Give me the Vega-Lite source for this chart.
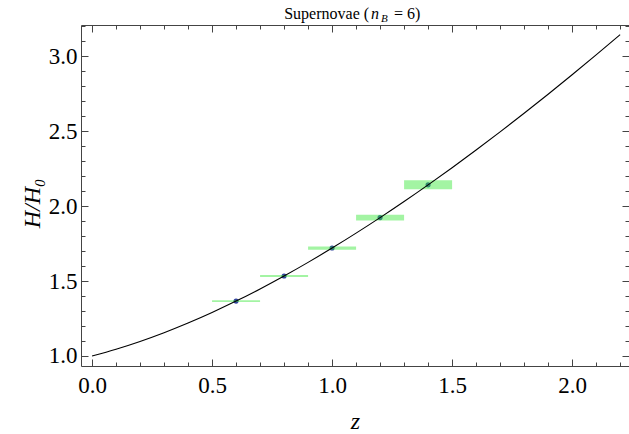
{
  "$schema": "https://vega.github.io/schema/vega-lite/v6.json",
  "width": 548,
  "height": 341,
  "autosize": {"type": "none"},
  "padding": {"left": 81, "top": 25, "right": 0, "bottom": 68},
  "background": "white",
  "config": {
    "view": {"stroke": null},
    "axis": {
      "grid": false,
      "domainColor": "#444444",
      "tickColor": "#444444",
      "domainWidth": 1,
      "tickWidth": 1,
      "labelFont": "Liberation Serif",
      "titleFont": "Liberation Serif",
      "labelColor": "black",
      "titleColor": "black",
      "labelFontSize": 23,
      "titleFontSize": 24,
      "titleFontWeight": "normal",
      "labelOverlap": false,
      "labelFlush": false,
      "labelBound": false
    }
  },
  "datasets": {
    "curve": [
      {"z": 0.0, "H": 1.0},
      {"z": 0.1, "H": 1.0453},
      {"z": 0.2, "H": 1.0972},
      {"z": 0.3, "H": 1.1555},
      {"z": 0.4, "H": 1.22},
      {"z": 0.5, "H": 1.2904},
      {"z": 0.6, "H": 1.3663},
      {"z": 0.7, "H": 1.4476},
      {"z": 0.8, "H": 1.5339},
      {"z": 0.9, "H": 1.625},
      {"z": 1.0, "H": 1.7205},
      {"z": 1.1, "H": 1.8202},
      {"z": 1.2, "H": 1.9239},
      {"z": 1.3, "H": 2.0314},
      {"z": 1.4, "H": 2.1426},
      {"z": 1.5, "H": 2.2572},
      {"z": 1.6, "H": 2.3751},
      {"z": 1.7, "H": 2.4962},
      {"z": 1.8, "H": 2.6204},
      {"z": 1.9, "H": 2.7475},
      {"z": 2.0, "H": 2.8775},
      {"z": 2.1, "H": 3.0102},
      {"z": 2.2, "H": 3.1456}
    ],
    "bins": [
      {"z": 0.6, "H": 1.3663, "zlo": 0.5, "zhi": 0.7, "Hlo": 1.3603, "Hhi": 1.3723},
      {"z": 0.8, "H": 1.5339, "zlo": 0.7, "zhi": 0.9, "Hlo": 1.5269, "Hhi": 1.5409},
      {"z": 1.0, "H": 1.7205, "zlo": 0.9, "zhi": 1.1, "Hlo": 1.7095, "Hhi": 1.7315},
      {"z": 1.2, "H": 1.9239, "zlo": 1.1, "zhi": 1.3, "Hlo": 1.9049, "Hhi": 1.9429},
      {"z": 1.4, "H": 2.1426, "zlo": 1.3, "zhi": 1.5, "Hlo": 2.1126, "Hhi": 2.1726}
    ]
  },
  "layer": [
    {
      "data": {"name": "bins"},
      "mark": {"type": "circle", "size": 26, "color": "#33449e", "opacity": 1},
      "encoding": {
        "x": {
          "field": "z", "type": "quantitative",
          "scale": {"domain": [-0.046, 2.237], "nice": false, "zero": false},
          "axis": {
            "orient": "top", "labels": false, "title": null, "domain": true,
            "values": [0, 0.1, 0.2, 0.3, 0.4, 0.5, 0.6, 0.7, 0.8, 0.9, 1.0, 1.1, 1.2, 1.3, 1.4, 1.5, 1.6, 1.7, 1.8, 1.9, 2.0, 2.1, 2.2],
            "tickSize": {"condition": {"test": "abs(datum.value*2-round(datum.value*2))<0.001", "value": -7}, "value": -4}
          }
        },
        "y": {
          "field": "H", "type": "quantitative",
          "scale": {"domain": [0.933, 3.21], "nice": false, "zero": false},
          "axis": {
            "orient": "right", "labels": false, "title": null, "domain": false,
            "values": [1.0, 1.1, 1.2, 1.3, 1.4, 1.5, 1.6, 1.7, 1.8, 1.9, 2.0, 2.1, 2.2, 2.3, 2.4, 2.5, 2.6, 2.7, 2.8, 2.9, 3.0, 3.1, 3.2],
            "tickSize": {"condition": {"test": "abs(datum.value*2-round(datum.value*2))<0.001", "value": -7}, "value": -4}
          }
        }
      }
    },
    {
      "data": {"name": "bins"},
      "mark": {"type": "rect", "color": "#33e633", "opacity": 0.45},
      "encoding": {
        "x": {"field": "zlo", "type": "quantitative", "scale": {"domain": [-0.046, 2.237], "nice": false, "zero": false}, "axis": null},
        "x2": {"field": "zhi"},
        "y": {"field": "Hlo", "type": "quantitative", "scale": {"domain": [0.933, 3.21], "nice": false, "zero": false}, "axis": null},
        "y2": {"field": "Hhi"}
      }
    },
    {
      "data": {"name": "curve"},
      "mark": {"type": "line", "color": "black", "strokeWidth": 1.1, "interpolate": "monotone"},
      "encoding": {
        "x": {
          "field": "z", "type": "quantitative",
          "scale": {"domain": [-0.046, 2.237], "nice": false, "zero": false},
          "axis": {
            "orient": "bottom", "title": "z", "titleFontStyle": "italic", "titlePadding": 9,
            "values": [0, 0.1, 0.2, 0.3, 0.4, 0.5, 0.6, 0.7, 0.8, 0.9, 1.0, 1.1, 1.2, 1.3, 1.4, 1.5, 1.6, 1.7, 1.8, 1.9, 2.0, 2.1, 2.2],
            "labelExpr": "abs(datum.value*2-round(datum.value*2))<0.001 ? format(datum.value,'.1f') : ''",
            "labelPadding": 15,
            "tickSize": {"condition": {"test": "abs(datum.value*2-round(datum.value*2))<0.001", "value": -7}, "value": -4}
          }
        },
        "y": {
          "field": "H", "type": "quantitative",
          "scale": {"domain": [0.933, 3.21], "nice": false, "zero": false},
          "axis": {
            "orient": "left", "title": "H/H₀", "titleFontStyle": "italic", "titlePadding": 4, "titleY": 178,
            "values": [1.0, 1.1, 1.2, 1.3, 1.4, 1.5, 1.6, 1.7, 1.8, 1.9, 2.0, 2.1, 2.2, 2.3, 2.4, 2.5, 2.6, 2.7, 2.8, 2.9, 3.0, 3.1, 3.2],
            "labelExpr": "abs(datum.value*2-round(datum.value*2))<0.001 ? format(datum.value,'.1f') : ''",
            "labelPadding": 11,
            "tickSize": {"condition": {"test": "abs(datum.value*2-round(datum.value*2))<0.001", "value": -7}, "value": -4}
          }
        }
      }
    },
    {
      "data": {"values": [{}]},
      "mark": {"type": "text", "text": "Supernovae (", "align": "right", "baseline": "alphabetic", "font": "Liberation Serif", "fontSize": 16, "dx": -11, "color": "black"},
      "encoding": {
        "x": {"datum": 1.2, "type": "quantitative", "scale": {"domain": [-0.046, 2.237], "nice": false, "zero": false}, "axis": null},
        "y": {"datum": 3.25, "type": "quantitative", "scale": {"domain": [0.933, 3.21], "nice": false, "zero": false}, "axis": null}
      }
    },
    {
      "data": {"values": [{}]},
      "mark": {"type": "text", "text": "n", "align": "left", "baseline": "alphabetic", "font": "Liberation Serif", "fontStyle": "italic", "fontSize": 16, "dx": -9, "color": "black"},
      "encoding": {
        "x": {"datum": 1.2, "type": "quantitative", "scale": {"domain": [-0.046, 2.237], "nice": false, "zero": false}, "axis": null},
        "y": {"datum": 3.25, "type": "quantitative", "scale": {"domain": [0.933, 3.21], "nice": false, "zero": false}, "axis": null}
      }
    },
    {
      "data": {"values": [{}]},
      "mark": {"type": "text", "text": "B", "align": "left", "baseline": "alphabetic", "font": "Liberation Serif", "fontStyle": "italic", "fontSize": 11, "dx": 1, "dy": 3, "color": "black"},
      "encoding": {
        "x": {"datum": 1.2, "type": "quantitative", "scale": {"domain": [-0.046, 2.237], "nice": false, "zero": false}, "axis": null},
        "y": {"datum": 3.25, "type": "quantitative", "scale": {"domain": [0.933, 3.21], "nice": false, "zero": false}, "axis": null}
      }
    },
    {
      "data": {"values": [{}]},
      "mark": {"type": "text", "text": "= 6)", "align": "left", "baseline": "alphabetic", "font": "Liberation Serif", "fontSize": 16, "dx": 14, "color": "black"},
      "encoding": {
        "x": {"datum": 1.2, "type": "quantitative", "scale": {"domain": [-0.046, 2.237], "nice": false, "zero": false}, "axis": null},
        "y": {"datum": 3.25, "type": "quantitative", "scale": {"domain": [0.933, 3.21], "nice": false, "zero": false}, "axis": null}
      }
    }
  ],
  "resolve": {"axis": {"x": "independent", "y": "independent"}}
}
